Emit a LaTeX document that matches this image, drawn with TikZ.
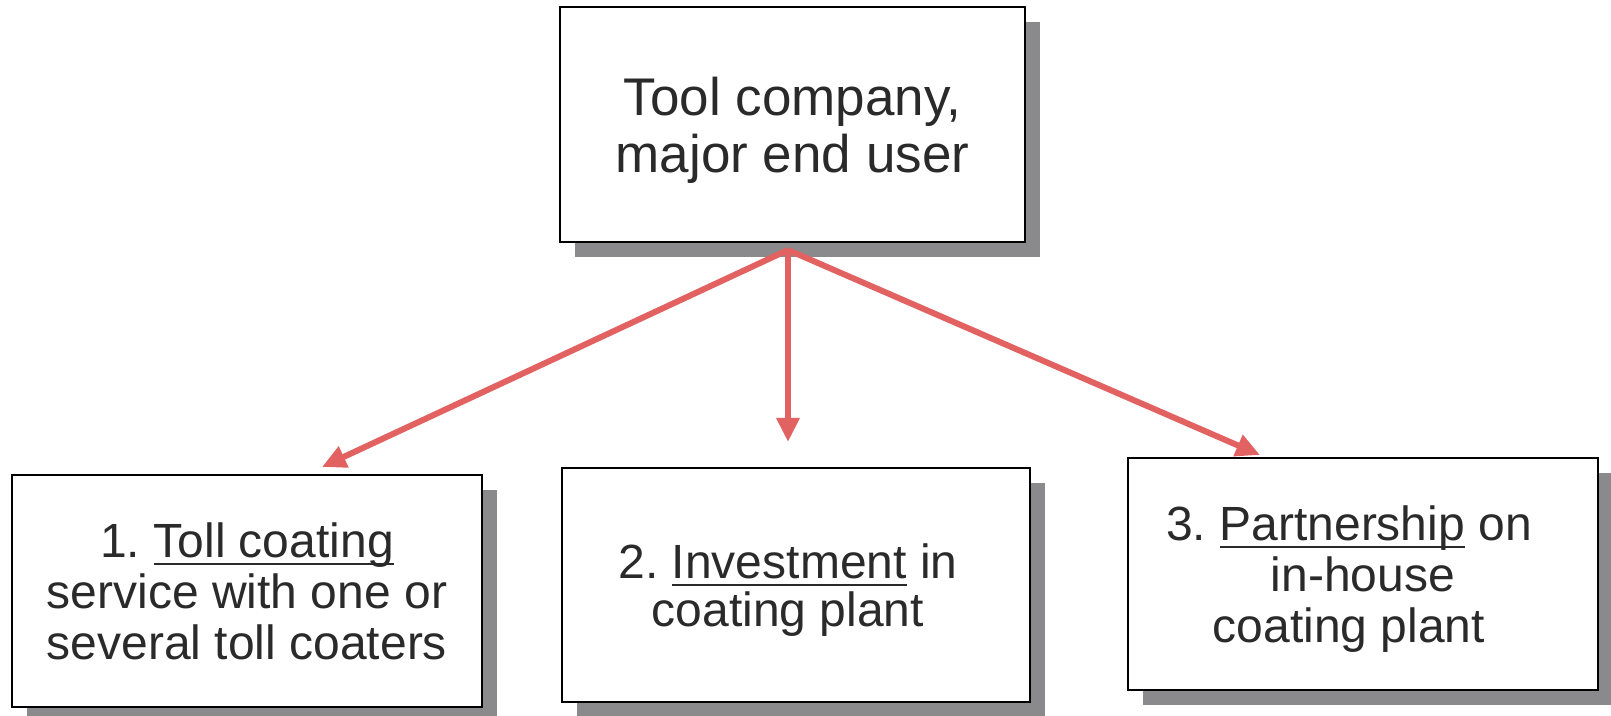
\documentclass[tikz,border=0pt]{standalone}
\usepackage{fontspec}
\setmainfont{Liberation Sans}
\usetikzlibrary{arrows.meta,shadows}

\definecolor{arrowred}{RGB}{226,98,98}
\definecolor{shadowgray}{RGB}{138,137,140}
\definecolor{inkgray}{RGB}{42,42,42}

% underline drawn just below the baseline, crossed by descenders
\newcommand\ulword[1]{\setbox0\hbox{#1}\leavevmode\rlap{\rule[-0.165em]{\wd0}{0.055em}}\box0\relax}

\frenchspacing

\begin{document}
\begin{tikzpicture}[x=0.5pt,y=-0.5pt,
  box/.style={draw=black, line width=1pt, fill=white, align=center,
    text=inkgray, inner sep=0pt, text depth=0pt,
    drop shadow={shadow xshift=7.5pt, shadow yshift=-7.5pt,
      fill=shadowgray, opacity=1}},
  link/.style={draw=arrowred, line width=3pt,
    -{Triangle[length=12pt,width=11pt]}}]

\useasboundingbox[fill=white] (0,0) rectangle (1611,716);

% top box
\node[box, minimum width=232.5pt, minimum height=117.5pt,
  font=\fontsize{26.5}{28.5}\selectfont] (top) at (792.5,124.5)
  {Tool company,\\major end user};

% three options
\node[box, minimum width=235pt, minimum height=116pt,
  font=\fontsize{24}{25.5}\selectfont] (opt1) at (247,591)
  {1. \ulword{Toll coating}\\service with one or\\several toll coaters};
\node[box, minimum width=234pt, minimum height=117pt,
  font=\fontsize{24}{24}\selectfont] (opt2) at (796,585)
  {2. \ulword{Investment} in\hspace*{8pt}\\coating plant\hspace*{8pt}};
\node[box, minimum width=235pt, minimum height=116pt,
  font=\fontsize{24}{25.5}\selectfont] (opt3) at (1363,574)
  {3. \ulword{Partnership} on\hspace*{14pt}\\in-house\hspace*{14pt}\\coating plant\hspace*{14pt}};

% connector ends
\coordinate (hub) at (788,250);
\coordinate (tip1) at (322,467);
\coordinate (tip2) at (788,442);
\coordinate (tip3) at (1260,455);

\draw[link] (hub) -- (tip1);
\draw[link] (hub) -- (tip2);
\draw[link] (hub) -- (tip3);
\end{tikzpicture}
\end{document}
